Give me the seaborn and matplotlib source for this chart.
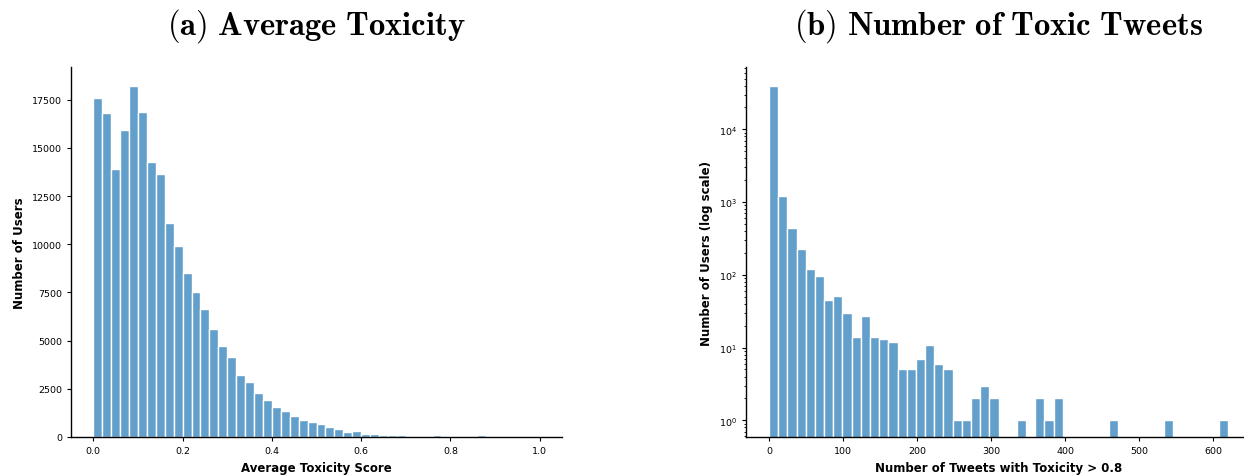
import numpy as np
import pandas as pd
import matplotlib
matplotlib.use("Agg")
import matplotlib.pyplot as plt
import seaborn as sns

# Per-user average toxicity: 50 bins of width 0.02 over [0, 1]
tox_edges = np.linspace(0.0, 1.0, 51)
tox_counts = [
    17600, 16830, 13920, 15930, 18210, 16880, 14270, 13660, 11120, 9900,
    8520, 7500, 6650, 5580, 4730, 4160, 3220, 2840, 2290, 1940,
    1580, 1350, 1090, 870, 760, 690, 500, 400, 260, 310,
    160, 175, 105, 105, 120, 55, 55, 70, 85, 55,
    55, 55, 55, 85, 70, 55, 55, 55, 55, 0,
]

# Tweets per user with toxicity > 0.8: 50 bins over [0, 620]
tweet_edges = np.linspace(0.0, 620.0, 51)
tweet_counts = [
    40000, 1200, 434, 228, 122, 95, 45, 51, 30, 14,
    27, 14, 13, 12, 5, 5, 7, 11, 6, 5,
    1, 1, 2, 3, 2, 0, 0, 1, 0, 2,
    1, 2, 0, 0, 0, 0, 0, 1, 0, 0,
    0, 0, 0, 1, 0, 0, 0, 0, 0, 1,
]

tox_df = pd.DataFrame({
    "score": (tox_edges[:-1] + tox_edges[1:]) / 2,
    "users": tox_counts,
})
tweet_df = pd.DataFrame({
    "tweets": (tweet_edges[:-1] + tweet_edges[1:]) / 2,
    "users": tweet_counts,
})

sns.set_style("ticks")
plt.rcParams["font.family"] = ["DejaVu Sans"]
plt.rcParams["text.color"] = "black"
plt.rcParams["axes.labelcolor"] = "black"
plt.rcParams["axes.edgecolor"] = "black"
plt.rcParams["xtick.color"] = "black"
plt.rcParams["ytick.color"] = "black"
plt.rcParams["xtick.labelsize"] = 6.8
plt.rcParams["ytick.labelsize"] = 6.8
plt.rcParams["xtick.major.size"] = 3
plt.rcParams["ytick.major.size"] = 3
plt.rcParams["ytick.minor.size"] = 1.8
plt.rcParams["axes.linewidth"] = 1.0

W, H = 1244, 477
fig = plt.figure(figsize=(W / 100, H / 100), dpi=100)
ax1 = fig.add_axes([71 / W, (H - 438) / H, (562 - 71) / W, (438 - 68) / H])
ax2 = fig.add_axes([746 / W, (H - 438) / H, (1251 - 746) / W, (438 - 68) / H])

bar_color = "#1f77b4"
label_kw = dict(fontsize=8.5, fontweight="bold")
title_kw = dict(math_fontfamily="cm", fontsize=23.5, pad=24)

sns.histplot(data=tox_df, x="score", weights="users", bins=list(tox_edges),
             color=bar_color, alpha=0.7, edgecolor="white", linewidth=1.0,
             ax=ax1)
ax1.set_xlim(-0.05, 1.05)
ax1.set_ylim(0, 19200)
ax1.set_xticks(np.arange(0, 1.01, 0.2))
ax1.set_yticks(np.arange(0, 17501, 2500))
ax1.set_xlabel("Average Toxicity Score", **label_kw)
ax1.set_ylabel("Number of Users", **label_kw)
ax1.set_title(r"$\mathbf{(a)\ Average\ Toxicity}$", **title_kw)

sns.histplot(data=tweet_df, x="tweets", weights="users", bins=list(tweet_edges),
             color=bar_color, alpha=0.7, edgecolor="white", linewidth=1.0,
             ax=ax2)
ax2.set_yscale("log")
ax2.set_xlim(-31, 651)
ax2.set_ylim(0.59, 72000)
ax2.set_xticks(np.arange(0, 601, 100))
ax2.set_xlabel("Number of Tweets with Toxicity > 0.8", **label_kw)
ax2.set_ylabel("Number of Users (log scale)", **label_kw)
ax2.set_title(r"$\mathbf{(b)\ Number\ of\ Toxic\ Tweets}$", **title_kw)

for ax in (ax1, ax2):
    sns.despine(ax=ax)

fig.savefig("out.png", dpi=100)
